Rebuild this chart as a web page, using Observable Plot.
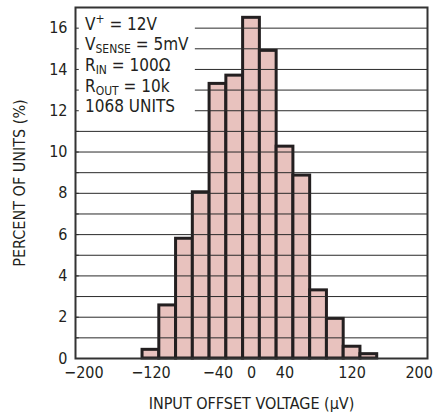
<!DOCTYPE html>
<html><head><meta charset="utf-8">
<script src="https://cdn.jsdelivr.net/npm/d3@7"></script>
<script src="https://cdn.jsdelivr.net/npm/@observablehq/plot@0.6"></script>
<style>body{margin:0;background:#fff}</style>
</head><body><div id="chart"></div>
<script>
// Histogram bins (centres, µV) and percent of units
const binCenters = [-120, -100, -80, -60, -40, -20, 0, 20, 40, 60, 80, 100, 120, 140];
const percents   = [0.42, 2.57, 5.8, 8.05, 13.3, 13.7, 16.5, 14.9, 10.26, 8.86, 3.3, 1.92, 0.57, 0.21];
const binWidth = 20;
const xTicks = [-200, -120, -40, 0, 40, 120, 200];
const yTicks = [0, 2, 4, 6, 8, 10, 12, 14, 16];
const gridLevels = [1, 2, 3, 4, 5, 6, 7, 8, 9, 10, 11, 12, 13, 14, 15, 16];
const noteLines = [
  [["V", ""], ["+", "sup"], [" = 12V", ""]],
  [["V", ""], ["SENSE", "sub"], [" = 5mV", ""]],
  [["R", ""], ["IN", "sub"], [" = 100Ω", ""]],
  [["R", ""], ["OUT", "sub"], [" = 10k", ""]],
  [["1068 UNITS", ""]]
];
const xLabel = "INPUT OFFSET VOLTAGE (µV)";
const yLabel = "PERCENT OF UNITS (%)";

const bins = binCenters.map((c, i) => ({c, p: percents[i]}));
const fmt = d => d < 0 ? "\u2212" + Math.abs(d) : String(d);
const font = "'Liberation Sans Narrow', 'Arial Narrow', 'DejaVu Sans Condensed', sans-serif";
const ink = "#231f20";

const chart = Plot.plot({
  width: 434, height: 414,
  marginLeft: 75, marginRight: 7, marginTop: 7, marginBottom: 56,
  style: {fontFamily: font, fontSize: "16px", color: ink, background: "#fff"},
  x: {domain: [-210, 210]},
  y: {domain: [0, 17]},
  marks: [
    Plot.rectY(bins, {x1: d => d.c - binWidth / 2, x2: d => d.c + binWidth / 2, y: "p",
      fill: "#e8c2be", stroke: ink, strokeWidth: 3}),
    Plot.ruleY(gridLevels, {x1: d => d >= 12 ? -67 : -210, x2: 210, stroke: "#2a2a2a", strokeWidth: 1}),
    Plot.ruleY(gridLevels, {x1: -210, x2: -205.5, stroke: "#2a2a2a", strokeWidth: 1}),
    Plot.frame({stroke: "#333", strokeWidth: 2}),
    Plot.axisX(xTicks, {anchor: "bottom", tickSize: 0, tickPadding: 8, tickFormat: fmt,
      label: xLabel, labelAnchor: "center", labelArrow: "none", labelOffset: 50, fontSize: 16}),
    Plot.axisY(yTicks, {anchor: "left", tickSize: 0, tickPadding: 8, tickFormat: fmt,
      label: yLabel, labelAnchor: "center", labelArrow: "none", labelOffset: 62, fontSize: 16})
  ]
});
document.getElementById("chart").appendChild(chart);

// annotation block with sub/superscripts
const sx = chart.scale("x"), sy = chart.scale("y");
const X = d3.scaleLinear(sx.domain, sx.range), Y = d3.scaleLinear(sy.domain, sy.range);
const svg = d3.select(chart.tagName.toLowerCase() === "svg" ? chart : chart.querySelector("svg"));
const g = svg.append("g").attr("font-family", font).attr("fill", ink).attr("text-anchor", "start");
noteLines.forEach((parts, i) => {
  const t = g.append("text").attr("x", X(-198)).attr("y", Y(16 - i) + 2).attr("font-size", 17)
    .attr("text-anchor", "start");
  let prevKind = "";
  parts.forEach(([s, kind]) => {
    const ts = t.append("tspan").text(s);
    if (kind === "sub") ts.attr("font-size", 12).attr("dy", 3);
    else if (kind === "sup") ts.attr("font-size", 12).attr("dy", -7);
    else ts.attr("dy", prevKind === "sub" ? -3 : prevKind === "sup" ? 7 : 0);
    prevKind = kind;
  });
});
</script>
</body></html>
